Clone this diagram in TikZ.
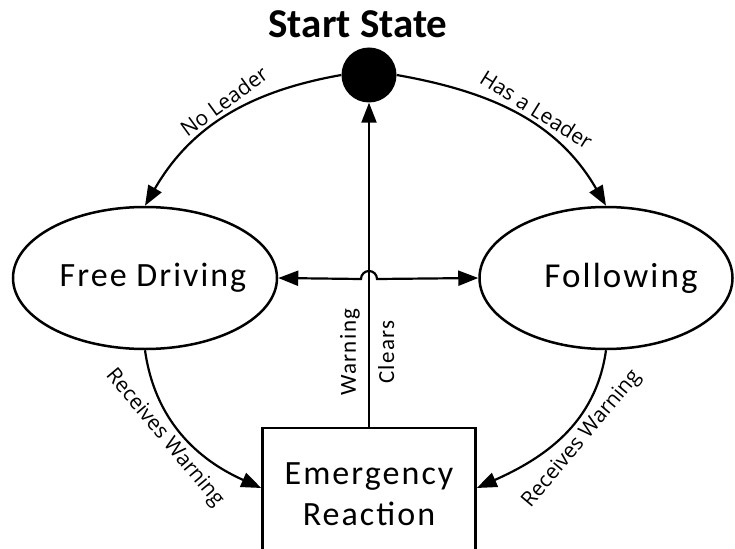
\documentclass[tikz,border=0pt]{standalone}
\usepackage{fontspec}
\setmainfont{Carlito}[LetterSpace=6]
\newfontfamily\titlefont{Carlito}
\newfontfamily\edgefont{Open Sans}
\usetikzlibrary{arrows.meta,shapes.geometric}
\tikzstyle{state}=[ellipse,draw,line width=2.5pt,minimum height=142pt,inner sep=0pt,font=\fontsize{34}{41}\selectfont]
\tikzstyle{reaction}=[rectangle,draw,line width=2.5pt,minimum width=213pt,minimum height=132pt,align=center,font=\fontsize{34}{41}\selectfont]
\tikzstyle{init}=[circle,fill=black,minimum size=55pt,inner sep=0pt]
\tikzstyle{edge} = [draw,line width=2.2pt,-{Triangle[length=20pt,width=15pt]}]
\tikzstyle{weight} = [font=\edgefont\fontsize{21}{25}\selectfont,inner sep=5pt]
\tikzstyle{note} = [font=\fontsize{23}{28}\selectfont,inner sep=8pt]

\begin{document}
\begin{tikzpicture}[x=1pt,y=1pt]
				\clip (0,0) rectangle (735,-548);
				% First we draw the states
				\node[init] (start) at (369,-75) {};
				\node[font=\titlefont\bfseries\fontsize{41}{49}\selectfont, anchor=base] (title) at (358,-38) {Start State};
				\foreach \pos/\name/\wide/\lbl in {{(145,-278)/free/264/\makebox[180pt]{\hspace*{16pt}Free Driving}}, {(606,-278)/follow/253/\makebox[150pt]{\hspace*{30pt}\fontsize{35}{41}\selectfont Following}}}
				\node[state, minimum width=\wide pt] (\name) at \pos {\lbl};
				\node[reaction] (emg) at (369,-494) {Emergency\\Reaction};

				% Connect the states with curved edges and draw labels
				\path[edge] (start.west) to[out=190,in=60] node[weight,pos=0.47,rotate=36,anchor=south] {No Leader} (free.north);
				\path[edge] (start.east) to[out=-10,in=120] node[weight,pos=0.55,rotate=-32,anchor=south] {Has a Leader} (follow.north);
				\path[edge] (free.south) to[out=-82,in=156] node[weight,pos=0.45,rotate=-50,anchor=north] {Receives Warning} ([yshift=6pt]emg.west);
				\path[edge] (follow.south) to[out=-98,in=24] node[weight,pos=0.45,rotate=50,anchor=north] {Receives Warning} ([yshift=6pt]emg.east);

				% The way back to the start
				\path[edge] (emg.north) -- node[note,pos=0.23,rotate=90,anchor=south] {Warning} node[note,pos=0.23,rotate=90,anchor=north] {Clears} (start.south);

				% Double edge between the two states, with a hop over the line
				\coordinate (hop) at (369,-279);
				\path[edge,{Triangle[length=20pt,width=15pt]}-{Triangle[length=20pt,width=15pt]}] (free.east) -- ([xshift=-8pt]hop) arc[start angle=180,end angle=0,radius=8pt] -- (follow.west);

			\end{tikzpicture}
\end{document}
